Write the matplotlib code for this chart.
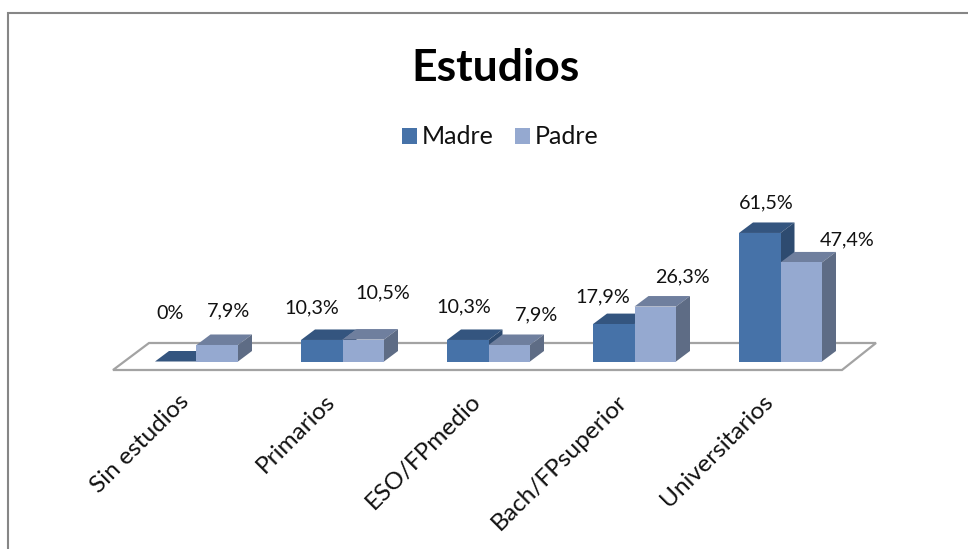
import matplotlib
matplotlib.use("Agg")
import matplotlib.pyplot as plt
from matplotlib.lines import Line2D
from matplotlib.patches import Polygon

categories = ["Sin estudios", "Primarios", "ESO/FPmedio", "Bach/FPsuperior", "Universitarios"]
madre = [0, 10.3, 10.3, 17.9, 61.5]
padre = [7.9, 10.5, 7.9, 26.3, 47.4]
madre_labels = ["0%", "10,3%", "10,3%", "17,9%", "61,5%"]
padre_labels = ["7,9%", "10,5%", "7,9%", "26,3%", "47,4%"]
series_names = ["Madre", "Padre"]
title = "Estudios"

W, H = 968, 549
plt.rcParams["font.family"] = ["Lato", "DejaVu Sans"]

# pixel geometry of the fake-3D projection
PX_PER_CAT = 146.0
PX_PER_PCT = 2.09
BASE_PX = 361.5
ORIGIN_PX = 196.5
BAR_W = 41.5 / PX_PER_CAT
DX = 14.0 / PX_PER_CAT
DY = 10.5 / PX_PER_PCT

# label offsets from the bar's top-centre, in pixels (x right, y up)
madre_nudge = [(-6, 48), (-10, 32), (-4, 33), (-11, 27), (7, 30)]
padre_nudge = [(11, 34), (19, 47), (27, 30), (27, 30), (46, 23)]

C_M = ("#4672A8", "#34557F", "#2E4B70")
C_P = ("#95A9D0", "#6F7F9E", "#5E6C85")

fig = plt.figure(figsize=(W / 100, H / 100), dpi=100, facecolor="white")
ax = fig.add_axes([0, 1 - BASE_PX / H, 1, BASE_PX / H])
ax.set_xlim(-ORIGIN_PX / PX_PER_CAT, (W - ORIGIN_PX) / PX_PER_CAT)
ax.set_ylim(0, BASE_PX / PX_PER_PCT)
ax.patch.set_alpha(0)
for s in ax.spines.values():
    s.set_visible(False)
ax.yaxis.set_visible(False)
ax.tick_params(axis="x", length=0, pad=21)
xs = list(range(len(categories)))
ax.set_xticks([x - 0.125 for x in xs])
ax.set_xticklabels(categories, rotation=45, ha="right", va="top",
                   rotation_mode="anchor", fontsize=17.6, color="#111111")

# floor
fx = lambda p: (p - ORIGIN_PX) / PX_PER_CAT
fy = lambda p: (BASE_PX - p) / PX_PER_PCT
floor = Polygon([(fx(113), fy(370)), (fx(149), fy(343)), (fx(876), fy(343)), (fx(842), fy(370))],
                closed=True, facecolor="white", edgecolor="#A3A3A3", linewidth=1.6,
                clip_on=False, zorder=1, joinstyle="miter")
ax.add_patch(floor)


def draw(values, lefts, colors, z):
    front, top, side = colors
    rects = ax.bar(lefts, values, width=BAR_W, align="edge", color=front,
                   linewidth=0, zorder=z + 1)
    for l, v in zip(lefts, values):
        r = l + BAR_W
        ax.add_patch(Polygon([(l, v), (l + DX, v + DY), (r + DX, v + DY), (r, v)],
                             facecolor=top, edgecolor="none", zorder=z))
        if v > 0:
            ax.add_patch(Polygon([(r, 0), (r + DX, DY), (r + DX, v + DY), (r, v)],
                                 facecolor=side, edgecolor="none", zorder=z))
    return rects


bars_m = draw(madre, [x - BAR_W for x in xs], C_M, 2)
bars_p = draw(padre, xs, C_P, 4)

for x, v, t, n in zip(xs, madre, madre_labels, madre_nudge):
    ax.annotate(t, (x - BAR_W / 2, v), xytext=(n[0] * 0.72, n[1] * 0.72),
                textcoords="offset points", ha="center", va="center",
                fontsize=14.2, color="#111111", zorder=10, annotation_clip=False)
for x, v, t, n in zip(xs, padre, padre_labels, padre_nudge):
    ax.annotate(t, (x + BAR_W / 2, v), xytext=(n[0] * 0.72, n[1] * 0.72),
                textcoords="offset points", ha="center", va="center",
                fontsize=14.2, color="#111111", zorder=10, annotation_clip=False)

fig.text(496 / W, 1 - 68 / H, title, fontsize=32, fontweight="bold",
         ha="center", va="center", color="black")

leg = fig.legend([bars_m[-1], bars_p[-1]], series_names, loc="center",
                 bbox_to_anchor=(500.5 / W, 1 - 137 / H), ncol=2, frameon=False,
                 fontsize=18, handlelength=0.6, handleheight=0.6,
                 handletextpad=0.2, columnspacing=0.85, labelcolor="#111111")

fig.add_artist(Line2D([8 / W, 8 / W, 1], [0, 1 - 13 / H, 1 - 13 / H], color="#868686",
                      linewidth=1.5, solid_joinstyle="miter"))

fig.savefig("out.png", dpi=100)
